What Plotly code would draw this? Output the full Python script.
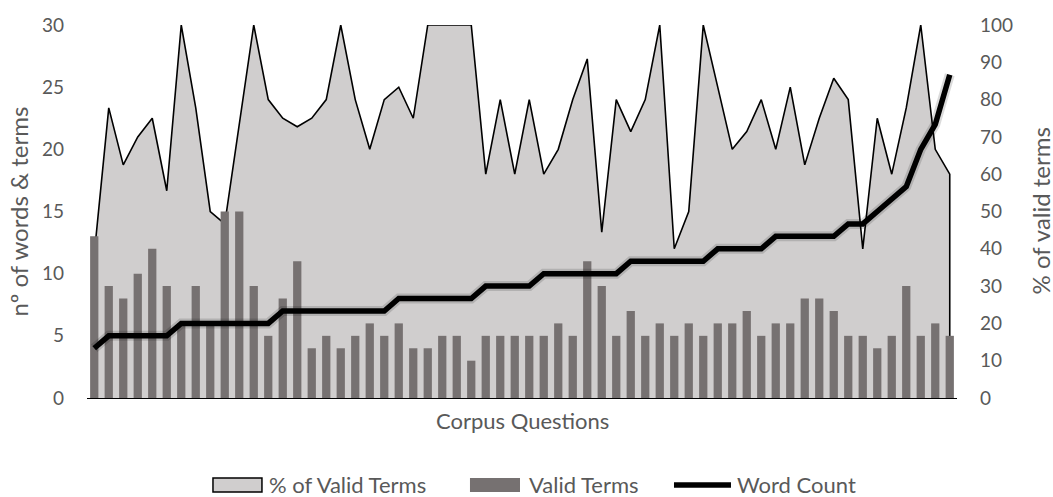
import plotly.graph_objects as go

# Per-question values, ordered by word count
questions = list(range(60))

valid_terms = [13, 9, 8, 10, 12, 9, 6, 9, 6, 15,
               15, 9, 5, 8, 11, 4, 5, 4, 5, 6,
               5, 6, 4, 4, 5, 5, 3, 5, 5, 5,
               5, 5, 6, 5, 11, 9, 5, 7, 5, 6,
               5, 6, 5, 6, 6, 7, 5, 6, 6, 8,
               8, 7, 5, 5, 4, 5, 9, 5, 6, 5]

pct_valid = [38.46, 77.78, 62.5, 70.0, 75.0, 55.56, 100, 77.78, 50.0, 46.67,
             73.33, 100, 80.0, 75.0, 72.73, 75.0, 80.0, 100, 80.0, 66.67,
             80.0, 83.33, 75.0, 100, 100, 100, 100, 60.0, 80.0, 60.0,
             80.0, 60.0, 66.67, 80.0, 90.91, 44.44, 80.0, 71.43, 80.0, 100,
             40.0, 50.0, 100, 83.33, 66.67, 71.43, 80.0, 66.67, 83.33, 62.5,
             75.0, 85.71, 80.0, 40.0, 75.0, 60.0, 77.78, 100, 66.67, 60.0]

word_count = [4, 5, 5, 5, 5, 5, 6, 6, 6, 6,
              6, 6, 6, 7, 7, 7, 7, 7, 7, 7,
              7, 8, 8, 8, 8, 8, 8, 9, 9, 9,
              9, 10, 10, 10, 10, 10, 10, 11, 11, 11,
              11, 11, 11, 12, 12, 12, 12, 13, 13, 13,
              13, 13, 14, 14, 15, 16, 17, 20, 22, 26]

left_ticks = [0, 5, 10, 15, 20, 25, 30]
right_ticks = [0, 10, 20, 30, 40, 50, 60, 70, 80, 90, 100]

FONT = "Lato"
TXT = "#595959"
AREA_FILL = "#d0cece"
BAR_FILL = "#767171"
TICK_SIZE = 19
LABEL_SIZE = 22
AXIS_TITLE_SIZE = 24

fig = go.Figure()

# Area outline closed down to zero at both ends
area_x = [questions[0]] + questions + [questions[-1]]
area_y = [0] + pct_valid + [0]
fig.add_trace(go.Scatter(
    x=area_x, y=area_y, name="% of Valid Terms",
    mode="lines", fill="toself", fillcolor=AREA_FILL,
    line=dict(color="#000000", width=1.6),
    yaxis="y", hoverinfo="skip",
))

fig.add_trace(go.Bar(
    x=questions, y=valid_terms, name="Valid Terms",
    marker=dict(color=BAR_FILL, line=dict(width=0)),
    yaxis="y2",
))

# soft halo under the word-count line
fig.add_trace(go.Scatter(
    x=questions, y=word_count, mode="lines",
    line=dict(color="rgba(0,0,0,0.14)", width=10),
    yaxis="y2", hoverinfo="skip",
))
fig.add_trace(go.Scatter(
    x=questions, y=word_count, name="Word Count", mode="lines",
    line=dict(color="#000000", width=5.5),
    yaxis="y2",
))

# Legend drawn in paper coordinates below the plot
leg_y0, leg_y1, leg_mid = -0.252, -0.2145, -0.2332
shapes = [
    dict(type="rect", xref="paper", yref="paper",
         x0=0.1448, x1=0.2011, y0=leg_y0, y1=leg_y1,
         fillcolor=AREA_FILL, line=dict(color="#000000", width=1.5)),
    dict(type="rect", xref="paper", yref="paper",
         x0=0.4402, x1=0.4977, y0=leg_y0, y1=leg_y1,
         fillcolor=BAR_FILL, line=dict(width=0)),
    dict(type="line", xref="paper", yref="paper",
         x0=0.6747, x1=0.7402, y0=leg_mid, y1=leg_mid,
         line=dict(color="#000000", width=5.5)),
]
legend_text = [("% of Valid Terms", 0.2069), ("Valid Terms", 0.5057),
               ("Word Count", 0.7448)]

annotations = [
    dict(text=t, xref="paper", yref="paper", x=x, y=leg_mid,
         xanchor="left", yanchor="middle", showarrow=False,
         font=dict(family=FONT, size=LABEL_SIZE, color=TXT))
    for t, x in legend_text
]
annotations += [
    dict(text="Corpus Questions", xref="paper", yref="paper",
         x=0.5, y=-0.059, xanchor="center", yanchor="middle",
         showarrow=False, font=dict(family=FONT, size=LABEL_SIZE, color=TXT)),
    dict(text="nº of words & terms", xref="paper", yref="paper",
         x=0, xshift=-69, y=0.5, xanchor="center", yanchor="middle",
         textangle=-90, showarrow=False,
         font=dict(family=FONT, size=AXIS_TITLE_SIZE, color=TXT)),
    dict(text="% of valid terms", xref="paper", yref="paper",
         x=1, xshift=83, y=0.5, xanchor="center", yanchor="middle",
         textangle=-90, showarrow=False,
         font=dict(family=FONT, size=AXIS_TITLE_SIZE, color=TXT)),
]

fig.update_layout(
    width=1053, height=497,
    margin=dict(l=87, r=96, t=25, b=99, autoexpand=False),
    paper_bgcolor="white", plot_bgcolor="white",
    font=dict(family=FONT, size=TICK_SIZE, color=TXT),
    bargap=0.43,
    showlegend=False,
    xaxis=dict(
        range=[-0.5, 59.5], showticklabels=False, ticks="",
        showgrid=False, zeroline=False,
        showline=True, linecolor="#000000", linewidth=1,
    ),
    yaxis=dict(
        side="right", range=[0, 100], tickvals=right_ticks,
        showgrid=False, zeroline=False, showline=False, ticks="",
        ticklabelstandoff=22, automargin=False,
        tickfont=dict(family=FONT, size=TICK_SIZE, color=TXT),
    ),
    yaxis2=dict(
        side="left", overlaying="y", range=[0, 30], tickvals=left_ticks,
        showgrid=False, zeroline=False, showline=False, ticks="",
        ticklabelstandoff=22, automargin=False,
        tickfont=dict(family=FONT, size=TICK_SIZE, color=TXT),
    ),
    shapes=shapes,
    annotations=annotations,
)

fig.write_html("out.html")
